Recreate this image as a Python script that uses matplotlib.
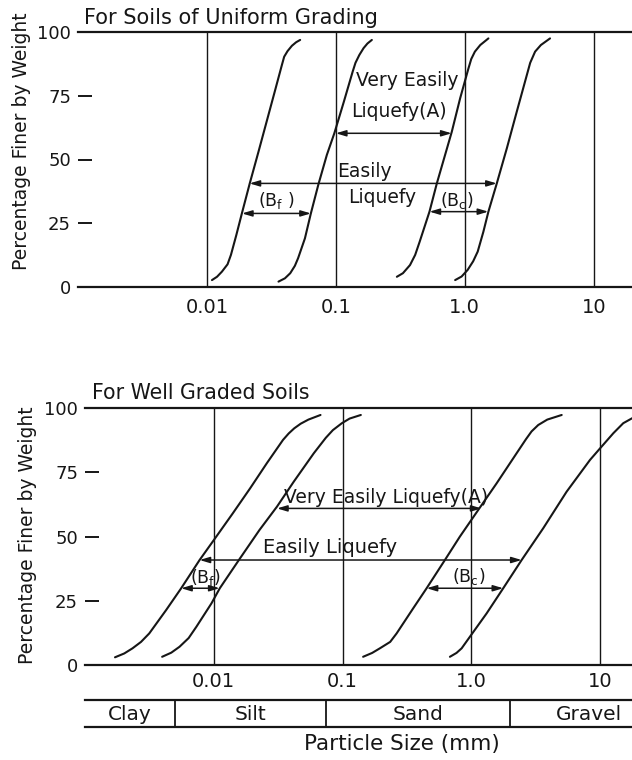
import matplotlib
matplotlib.use("Agg")
import matplotlib.pyplot as plt
from matplotlib.ticker import NullLocator

plt.rcParams["font.family"] = ["DejaVu Sans"]
plt.rcParams["mathtext.default"] = "regular"

W, H = 632, 760
INK = "#161616"

# ---- For Soils of Uniform Grading (percent finer vs particle size, mm) ----
U1_PCT = [2.6, 3.9, 5.9, 8.8, 12.5, 20.3, 28.8, 40.6, 53.1, 64.9, 76.7, 87.1, 90.4, 92.6, 94.7, 96.1, 97.0]
U1_MM = [0.01094, 0.01197, 0.01306, 0.01445, 0.01535, 0.01690, 0.01866, 0.02148, 0.02512, 0.02904,
         0.03357, 0.03811, 0.03972, 0.04217, 0.04560, 0.04920, 0.05284]
U2_PCT = [2.0, 3.3, 5.3, 8.2, 11.2, 19.0, 28.8, 40.3, 51.8, 60.3, 72.7, 84.5, 88.0, 91.1, 93.8, 95.6, 97.0]
U2_MM = [0.03589, 0.04027, 0.04426, 0.04808, 0.05093, 0.05754, 0.06397, 0.07328, 0.08511, 0.09727,
         0.1153, 0.1349, 0.1419, 0.1521, 0.1641, 0.1758, 0.1901]
U3_PCT = [3.9, 5.3, 8.5, 12.5, 17.7, 29.5, 40.6, 51.8, 60.9, 74.1, 85.8, 89.5, 92.4, 95.0, 97.6]
U3_MM = [0.2972, 0.3311, 0.3758, 0.4121, 0.4467, 0.5321, 0.6067, 0.7031, 0.7925, 0.9204,
         1.067, 1.122, 1.197, 1.318, 1.524]
U4_PCT = [2.6, 4.0, 6.6, 10.0, 13.8, 21.6, 29.5, 40.6, 54.4, 68.8, 83.2, 88.0, 92.4, 95.0, 97.6]
U4_MM = [0.8414, 0.9441, 1.052, 1.161, 1.259, 1.393, 1.524, 1.770, 2.118, 2.529,
         3.027, 3.214, 3.508, 3.890, 4.581]

# ---- For Well Graded Soils ----
G1_PCT = [3.0, 4.5, 6.5, 9.0, 12.3, 21.4, 29.9, 40.9, 48.7, 59.1, 68.8, 78.6, 87.7, 90.2, 92.2, 94.0,
          95.6, 97.4]
G1_MM = [0.001710, 0.002018, 0.002339, 0.002723, 0.003155, 0.004266, 0.005585, 0.007762, 0.01002,
         0.01406, 0.01914, 0.02582, 0.03451, 0.03819, 0.04217, 0.04732, 0.05433, 0.06745]
G2_PCT = [3.2, 4.8, 7.1, 10.5, 14.9, 24.0, 29.9, 40.9, 52.6, 61.7, 71.4, 82.5, 88.5, 91.5, 94.2, 96.0, 97.4]
G2_MM = [0.003972, 0.004677, 0.005420, 0.006383, 0.007328, 0.009594, 0.01114, 0.01567, 0.02265,
         0.03097, 0.04178, 0.05984, 0.07413, 0.08414, 0.09886, 0.1135, 0.1387]
G3_PCT = [3.2, 4.7, 6.5, 9.0, 12.3, 22.1, 29.9, 40.9, 50.0, 60.4, 70.8, 82.5, 88.0, 91.0, 93.5, 95.6, 97.4]
G3_MM = [0.1445, 0.1698, 0.1950, 0.2344, 0.2630, 0.3540, 0.4498, 0.6237, 0.8147, 1.132, 1.574,
         2.249, 2.661, 2.938, 3.311, 3.890, 5.035]
G4_PCT = [3.2, 4.7, 6.5, 11.0, 20.1, 29.9, 40.9, 53.3, 67.5, 79.9, 84.4, 90.3, 94.2, 96.1, 97.4]
G4_MM = [0.6823, 0.7674, 0.8414, 0.9750, 1.315, 1.770, 2.460, 3.622, 5.495, 8.356, 10.0, 12.68,
         15.14, 17.70, 21.38]

# range arrows: (percent, from mm, to mm)
U_ARROWS = [(60.3, 0.100, 0.79), (40.6, 0.0214, 1.77), (28.8, 0.0187, 0.064), (29.5, 0.532, 1.52)]
G_ARROWS = [(61.0, 0.031, 1.20), (40.9, 0.00776, 2.46), (29.9, 0.00558, 0.0111), (29.9, 0.450, 1.77)]

Y_TICKS = [0, 25, 50, 75, 100]
X_TICKS = [0.01, 0.1, 1.0, 10]
X_LABELS = ["0.01", "0.1", "1.0", "10"]

CLASS_NAMES = ["Clay", "Silt", "Sand", "Gravel"]
CLASS_BOUNDS = [0.005, 0.074, 2.0]
CLASS_MID = [0.00224, 0.0192, 0.385, 8.2]

fig = plt.figure(figsize=(W / 100, H / 100), dpi=100)


def px_axes(left, top, right, bottom):
    return fig.add_axes([left / W, 1 - bottom / H, (right - left) / W, (bottom - top) / H])


def setup(ax, xmax, xpad):
    ax.set_xscale("log")
    ax.set_xlim(0.001, xmax)
    ax.set_ylim(0, 100)
    for s in ("left", "right"):
        ax.spines[s].set_visible(False)
    for s in ("top", "bottom"):
        ax.spines[s].set_linewidth(1.6)
        ax.spines[s].set_color(INK)
    ax.set_yticks(Y_TICKS)
    ax.set_yticklabels([str(v) for v in Y_TICKS], fontsize=13, color=INK)
    ax.tick_params(axis="y", direction="in", length=10, width=1.4, pad=5, colors=INK)
    ax.set_xticks(X_TICKS)
    ax.set_xticklabels(X_LABELS, fontsize=14, color=INK)
    ax.xaxis.set_minor_locator(NullLocator())
    ax.tick_params(axis="x", length=0, pad=xpad)
    for x in X_TICKS:
        ax.axvline(x, color=INK, lw=1.0, zorder=1)


def span(ax, y, x0, x1):
    ax.annotate("", xy=(x1, y), xytext=(x0, y),
                arrowprops=dict(arrowstyle="<|-|>,head_length=0.6,head_width=0.18",
                                color=INK, lw=1.1, shrinkA=0, shrinkB=0))


FS = 13.5

# ── top: uniform grading ──
ax1 = px_axes(78, 32.3, 632, 286.7)
setup(ax1, 19.8, 8)
for d, p in [(U1_MM, U1_PCT), (U2_MM, U2_PCT), (U3_MM, U3_PCT), (U4_MM, U4_PCT)]:
    ax1.plot(d, p, color=INK, lw=1.5, zorder=3, solid_capstyle="round", solid_joinstyle="round")
for y, x0, x1 in U_ARROWS:
    span(ax1, y, x0, x1)
ax1.text(0.36, 81, "Very Easily", ha="center", va="center", fontsize=FS, color=INK)
ax1.text(0.31, 68.8, "Liquefy(A)", ha="center", va="center", fontsize=FS, color=INK)
ax1.text(0.166, 45.3, "Easily", ha="center", va="center", fontsize=FS, color=INK)
ax1.text(0.228, 35.0, "Liquefy", ha="center", va="center", fontsize=FS, color=INK)
ax1.text(0.0343, 34.0, "(B$_{f}$ )", ha="center", va="center", fontsize=12.5, color=INK)
ax1.text(0.871, 34.0, "(B$_{c}$)", ha="center", va="center", fontsize=12.5, color=INK)

# ── bottom: well graded ──
ax2 = px_axes(85, 408.3, 632, 665)
setup(ax2, 17.7, 5)
for d, p in [(G1_MM, G1_PCT), (G2_MM, G2_PCT), (G3_MM, G3_PCT), (G4_MM, G4_PCT)]:
    ax2.plot(d, p, color=INK, lw=1.5, zorder=3, solid_capstyle="round", solid_joinstyle="round")
for y, x0, x1 in G_ARROWS:
    span(ax2, y, x0, x1)
ax2.text(0.216, 61.4, "Very Easily Liquefy(A)", ha="center", va="bottom", fontsize=FS, color=INK)
ax2.text(0.0797, 45.8, "Easily Liquefy", ha="center", va="center", fontsize=14, color=INK)
ax2.text(0.0086, 34.0, "(B$_{f}$)", ha="center", va="center", fontsize=12.5, color=INK)
ax2.text(0.957, 34.4, "(B$_{c}$)", ha="center", va="center", fontsize=12.5, color=INK)

# ── soil class strip ──
ax3 = px_axes(85, 700, 632, 727)
ax3.set_xscale("log")
ax3.set_xlim(0.001, 17.7)
ax3.set_ylim(0, 1)
for s in ("left", "right"):
    ax3.spines[s].set_visible(False)
for s in ("top", "bottom"):
    ax3.spines[s].set_linewidth(1.6)
    ax3.spines[s].set_color(INK)
ax3.set_xticks([])
ax3.set_yticks([])
ax3.xaxis.set_minor_locator(NullLocator())
for b in CLASS_BOUNDS:
    ax3.axvline(b, color=INK, lw=1.3)
for name, m in zip(CLASS_NAMES, CLASS_MID):
    ax3.text(m, 0.45, name, ha="center", va="center", fontsize=14.5, color=INK)

fig.text(402 / W, 1 - 744 / H, "Particle Size (mm)", ha="center", va="center", fontsize=15.5, color=INK)

# titles and y labels
fig.text(84 / W, 1 - 18 / H, "For Soils of Uniform Grading", ha="left", va="center", fontsize=15, color=INK)
fig.text(92 / W, 1 - 393 / H, "For Well Graded Soils", ha="left", va="center", fontsize=14.8, color=INK)
fig.text(22 / W, 1 - 141 / H, "Percentage Finer by Weight", rotation=90, ha="center", va="center",
         fontsize=13.5, color=INK)
fig.text(28 / W, 1 - 535 / H, "Percentage Finer by Weight", rotation=90, ha="center", va="center",
         fontsize=13.5, color=INK)

fig.savefig("out.png", dpi=100, facecolor="white")
